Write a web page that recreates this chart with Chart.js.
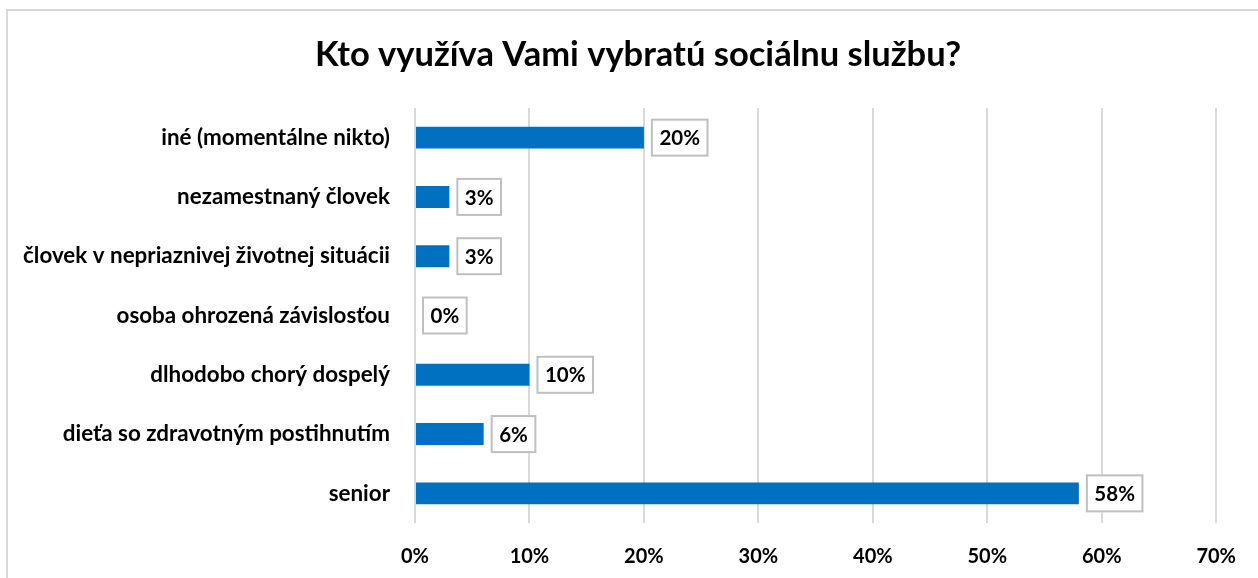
<!DOCTYPE html>
<html>
<head>
<meta charset="utf-8">
<script src="https://cdn.jsdelivr.net/npm/chart.js@4/dist/chart.umd.min.js"></script>
<style>
  html, body { margin: 0; padding: 0; background: #fff; overflow: hidden; }
  #wrap { position: relative; width: 1258px; height: 578px; }
  #frame { position: absolute; left: 6px; top: 9px; width: 1300px; height: 650px; border: 2px solid #d9d9d9; box-sizing: border-box; }
  canvas { position: absolute; left: 0; top: 0; }
</style>
</head>
<body>
<div id="wrap">
  <div id="frame"></div>
  <canvas id="c" width="1258" height="578"></canvas>
</div>
<script>
const categories = [
  "iné (momentálne nikto)",
  "nezamestnaný človek",
  "človek v nepriaznivej životnej situácii",
  "osoba ohrozená závislosťou",
  "dlhodobo chorý dospelý",
  "dieťa so zdravotným postihnutím",
  "senior"
];
const values = [20, 3, 3, 0, 10, 6, 58];
const xTicks = [0, 10, 20, 30, 40, 50, 60, 70];
const titleText = "Kto využíva Vami vybratú sociálnu službu?";

const FONT = "Lato, 'Open Sans', sans-serif";

const chartTitle = {
  id: 'chartTitle',
  afterDraw(chart) {
    const ctx = chart.ctx;
    ctx.save();
    ctx.font = "bold 34.5px " + FONT;
    ctx.fillStyle = '#000000';
    ctx.textAlign = 'center';
    ctx.textBaseline = 'alphabetic';
    ctx.fillText(titleText, 638, 66);
    ctx.restore();
  }
};

const labelBoxes = {
  id: 'labelBoxes',
  afterDatasetsDraw(chart) {
    const ctx = chart.ctx;
    const meta = chart.getDatasetMeta(0);
    ctx.save();
    ctx.font = "bold 20.5px " + FONT;
    ctx.textBaseline = 'middle';
    ctx.textAlign = 'left';
    meta.data.forEach((bar, i) => {
      const txt = values[i] + '%';
      const w = ctx.measureText(txt).width;
      const bx = bar.x + 7;
      const bw = w + 17;
      const bh = 38;
      const by = bar.y - bh / 2;
      ctx.fillStyle = '#ffffff';
      ctx.fillRect(bx, by, bw, bh);
      ctx.strokeStyle = '#bfbfbf';
      ctx.lineWidth = 2;
      ctx.strokeRect(bx + 1, by + 1, bw - 2, bh - 2);
      ctx.fillStyle = '#000000';
      ctx.fillText(txt, bx + 8.5, bar.y + 1);
    });
    ctx.restore();
  }
};

new Chart(document.getElementById('c'), {
  type: 'bar',
  data: {
    labels: categories,
    datasets: [{
      data: values,
      backgroundColor: '#0070c0',
      borderWidth: 0,
      categoryPercentage: 0.37,
      barPercentage: 1.0
    }]
  },
  options: {
    indexAxis: 'y',
    responsive: false,
    animation: false,
    layout: { padding: { left: 0, right: 40, top: 108, bottom: 0 } },
    plugins: {
      legend: { display: false },
      tooltip: { enabled: false },
      title: { display: false }
    },
    scales: {
      x: {
        min: 0,
        max: 70,
        afterBuildTicks(scale) { scale.ticks = xTicks.map(v => ({ value: v })); },
        afterFit(scale) { scale.height = 55; },
        grid: { color: '#d9d9d9', lineWidth: 2, drawTicks: false },
        border: { display: false },
        ticks: {
          padding: 22,
          color: '#000000',
          font: { family: FONT, size: 20, weight: 'bold' },
          callback: (v) => v + '%'
        }
      },
      y: {
        afterFit(scale) { scale.width = 415; },
        grid: { display: false, drawTicks: false },
        border: { display: false },
        ticks: {
          padding: 25,
          color: '#000000',
          font: { family: FONT, size: 22.4, weight: 'bold' }
        }
      }
    }
  },
  plugins: [labelBoxes, chartTitle]
});
</script>
</body>
</html>
